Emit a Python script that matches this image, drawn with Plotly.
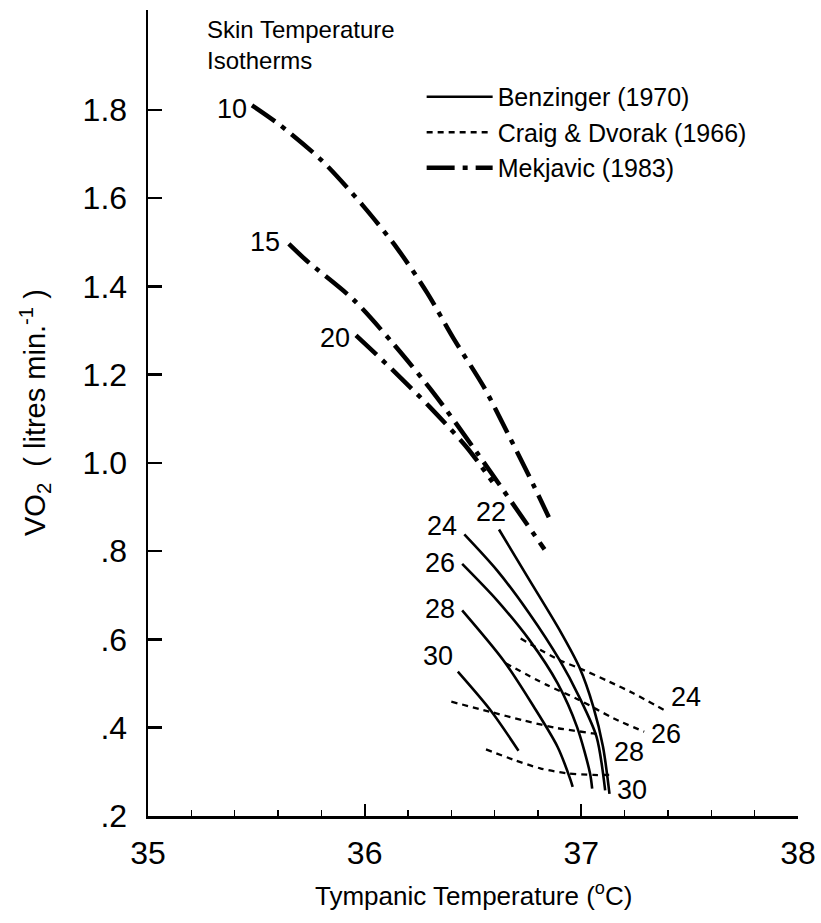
import plotly.graph_objects as go

# ---------------- data ----------------
x_ticks = [35, 36, 37, 38]
y_ticks = [0.2, 0.4, 0.6, 0.8, 1.0, 1.2, 1.4, 1.6, 1.8]
y_tick_text = [".2", ".4", ".6", ".8", "1.0", "1.2", "1.4", "1.6", "1.8"]

# Mekjavic (1983) isotherms
mek10_x = [35.48, 35.61, 35.80, 35.99, 36.15, 36.29, 36.41, 36.55, 36.66, 36.76, 36.85]
mek10_y = [1.810, 1.765, 1.686, 1.584, 1.486, 1.384, 1.282, 1.172, 1.067, 0.969, 0.877]
mek15_x = [35.65, 35.73, 35.95, 36.13, 36.32, 36.52, 36.83]
mek15_y = [1.496, 1.459, 1.369, 1.271, 1.157, 1.022, 0.804]
mek20_x = [35.96, 36.13, 36.30, 36.47, 36.59]
mek20_y = [1.289, 1.210, 1.127, 1.036, 0.957]

# Benzinger (1970) isotherms
ben22_x = [36.62, 36.76, 36.90, 36.99, 37.055, 37.10, 37.13]
ben22_y = [0.849, 0.735, 0.621, 0.538, 0.448, 0.357, 0.250]
ben24_x = [36.46, 36.61, 36.76, 36.90, 36.99, 37.07, 37.11]
ben24_y = [0.838, 0.757, 0.659, 0.553, 0.470, 0.380, 0.258]
ben26_x = [36.45, 36.61, 36.76, 36.89, 36.98, 37.04, 37.05]
ben26_y = [0.771, 0.689, 0.599, 0.501, 0.402, 0.297, 0.262]
ben28_x = [36.45, 36.64, 36.78, 36.89, 36.95, 36.96]
ben28_y = [0.666, 0.553, 0.448, 0.357, 0.282, 0.266]
ben30_x = [36.43, 36.58, 36.71]
ben30_y = [0.527, 0.440, 0.348]

# Craig & Dvorak (1966) isotherms
cd24_x = [36.72, 36.90, 36.99, 37.13, 37.24, 37.39]
cd24_y = [0.602, 0.553, 0.535, 0.504, 0.478, 0.438]
cd26_x = [36.65, 36.84, 36.99, 37.15, 37.29]
cd26_y = [0.546, 0.497, 0.463, 0.421, 0.391]
cd28_x = [36.40, 36.58, 36.73, 36.89, 37.055, 37.09]
cd28_y = [0.459, 0.436, 0.417, 0.399, 0.387, 0.383]
cd30_x = [36.56, 36.69, 36.81, 36.93, 37.055, 37.13]
cd30_y = [0.351, 0.327, 0.308, 0.297, 0.293, 0.293]

series_names = ["Benzinger (1970)", "Craig & Dvorak (1966)", "Mekjavic (1983)"]

# ---------------- styling ----------------
FONT = "Liberation Sans, Arial, Helvetica, sans-serif"
styles = {
    "ben": dict(color="black", width=2.6, dash="solid"),
    "cd": dict(color="black", width=2.3, dash="6px,5px"),
    "mek": dict(color="black", width=4.5, dash="28px,8px,5px,8px"),
}

fig = go.Figure()

groups = [
    ("ben", series_names[0], [("22", ben22_x, ben22_y), ("24", ben24_x, ben24_y),
                               ("26", ben26_x, ben26_y), ("28", ben28_x, ben28_y),
                               ("30", ben30_x, ben30_y)]),
    ("cd", series_names[1], [("24", cd24_x, cd24_y), ("26", cd26_x, cd26_y),
                              ("28", cd28_x, cd28_y), ("30", cd30_x, cd30_y)]),
    ("mek", series_names[2], [("10", mek10_x, mek10_y), ("15", mek15_x, mek15_y),
                               ("20", mek20_x, mek20_y)]),
]

for key, name, curves in groups:
    for i, (lab, xs, ys) in enumerate(curves):
        fig.add_trace(go.Scatter(
            x=xs, y=ys, mode="lines", name=name,
            line=dict(shape="spline", smoothing=0.8, **styles[key]),
            legendgroup=key, showlegend=(i == 0), hoverinfo="skip",
        ))

# ---------------- curve labels (anchored to curve ends) ----------------
LABEL_SIZE = 27
def label(text, x, y, xanchor, yanchor="middle", xshift=0, yshift=0):
    fig.add_annotation(x=x, y=y, xref="x", yref="y", text=text, showarrow=False,
                       xanchor=xanchor, yanchor=yanchor, xshift=xshift, yshift=yshift,
                       font=dict(family=FONT, size=LABEL_SIZE, color="black"))

label("10", mek10_x[0], mek10_y[0], "right", xshift=-3, yshift=-4)
label("15", mek15_x[0], mek15_y[0], "right", xshift=-7, yshift=2)
label("20", mek20_x[0], mek20_y[0], "right", xshift=-4, yshift=-3)

label("22", ben22_x[0], ben22_y[0], "right", xshift=9, yshift=18)
label("24", ben24_x[0], ben24_y[0], "right", xshift=-5, yshift=8)
label("26", ben26_x[0], ben26_y[0], "right", xshift=-5, yshift=1)
label("28", ben28_x[0], ben28_y[0], "right", xshift=-5, yshift=1)
label("30", ben30_x[0], ben30_y[0], "right", xshift=-3, yshift=16)

label("24", cd24_x[-1], cd24_y[-1], "left", xshift=3, yshift=14)
label("26", cd26_x[-1], cd26_y[-1], "left", xshift=5, yshift=-2)
label("28", cd28_x[-1], cd28_y[-1], "left", xshift=11, yshift=-17)
label("30", cd30_x[-1], cd30_y[-1], "left", xshift=5, yshift=-15)

# block title
fig.add_annotation(x=0.087, y=0.995, xref="paper", yref="paper",
                   text="Skin Temperature<br>Isotherms", showarrow=False,
                   xanchor="left", yanchor="top", align="left",
                   font=dict(family=FONT, size=24, color="black"))

# axis titles
fig.add_annotation(x=0.5, y=0, xref="paper", yref="paper", yanchor="top",
                   yshift=-60, text="Tympanic Temperature (<sup>o</sup>C)",
                   showarrow=False, font=dict(family=FONT, size=26, color="black"))
fig.add_annotation(x=0, y=0.5, xref="paper", yref="paper", xanchor="center",
                   xshift=-113, textangle=-90,
                   text="VO<sub>2</sub>\u00a0\u00a0( litres min.<sup>-1</sup> )",
                   showarrow=False, font=dict(family=FONT, size=29, color="black"))

fig.update_xaxes(
    range=[35, 38], tickvals=x_ticks, ticktext=[str(v) for v in x_ticks],
    ticks="inside", ticklen=12, tickwidth=2, tickcolor="black",
    showline=True, linewidth=2.5, linecolor="black",
    showgrid=False, zeroline=False,
    tickfont=dict(family=FONT, size=32, color="black"),
    minor=dict(dtick=0.2, tick0=35, ticks="inside", ticklen=6, tickwidth=1.5,
               tickcolor="black", showgrid=False),
    ticklabelstandoff=7,
)
fig.update_yaxes(
    range=[0.2, 2.026], tickvals=y_ticks, ticktext=y_tick_text,
    ticks="inside", ticklen=14, tickwidth=2.5, tickcolor="black",
    showline=True, linewidth=2.5, linecolor="black",
    showgrid=False, zeroline=False,
    tickfont=dict(family=FONT, size=32, color="black"),
    ticklabelstandoff=12,
)

fig.update_layout(
    width=821, height=923,
    margin=dict(l=148, r=23, t=10, b=107, autoexpand=False),
    plot_bgcolor="white", paper_bgcolor="white",
    font=dict(family=FONT, color="black"),
    legend=dict(x=0.421, y=0.9206, xanchor="left", yanchor="top",
                bgcolor="rgba(0,0,0,0)", traceorder="normal",
                font=dict(family=FONT, size=25, color="black"), itemwidth=66),
)

fig.write_html(
    "out.html",
    config={"displayModeBar": False, "staticPlot": True},
    post_script="document.body.style.margin='0';document.body.style.overflow='hidden';",
)
